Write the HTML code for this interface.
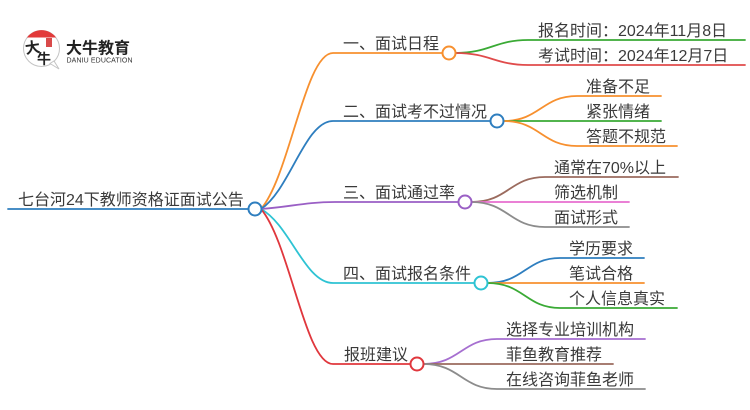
<!DOCTYPE html>
<html><head><meta charset="utf-8"><style>
html,body{margin:0;padding:0;background:#fff;}
svg{display:block;}
text{font-family:"Liberation Sans","Noto Sans CJK SC",sans-serif;}
</style></head><body>
<svg width="750" height="410" viewBox="0 0 750 410" xmlns="http://www.w3.org/2000/svg">
<rect width="750" height="410" fill="#fff"/>
<!-- logo -->
<g>
<circle cx="41.5" cy="48.5" r="18" fill="#fff" stroke="#c4c4c4" stroke-width="1"/>
<path d="M27,37.5 A18,18 0 0 1 56,37.5 Z" fill="#e23a3a"/>
<path d="M50,63.5 L59,69 L54,61 Z" fill="#fff" stroke="#c4c4c4" stroke-width="1"/>
<text x="25" y="53" font-size="15" fill="#222" font-weight="bold" transform="rotate(-8 32 47)">大</text>
<text x="37" y="64" font-size="14" fill="#222" font-weight="bold">牛</text>
<rect x="46" y="38" width="6" height="9" fill="#d94a4a"/>
<text x="66" y="53.5" font-size="16" font-weight="bold" fill="#222">大牛教育</text>
<text x="66.5" y="62.7" font-size="7" fill="#333" textLength="66">DANIU EDUCATION</text>
</g>
<g fill="none" stroke-width="1.8" stroke-linecap="round">
<line x1="8" y1="209" x2="248.5" y2="209" stroke="#2e7ebf"/>
<path d="M261,209 C290,175 305,53 333,53 L442.5,53" stroke="#f7902f"/>
<path d="M261,209 C290,190 305,121 333,121 L490.5,121" stroke="#2e7ebf"/>
<path d="M261,209 C290,207 305,202 335,202 L458.5,202" stroke="#9a5fc5"/>
<path d="M261,209 C290,225 305,283 333,283 L474.5,283" stroke="#2ec3d3"/>
<path d="M261,209 C290,243 305,364 333,364 L410.5,364" stroke="#e0373d"/>
<path d="M455.5,53 C490,53 495,40 528,40 L745,40" stroke="#3aaa35"/>
<path d="M455.5,53 C490,53 495,65 528,65 L745,65" stroke="#e04b4b"/>
<path d="M503.5,121 C540,121 542,96 577,96 L661,96" stroke="#f7902f"/>
<path d="M503.5,121 L661,121" stroke="#3aaa35"/>
<path d="M503.5,121 C540,121 542,146 577,146 L677,146" stroke="#f7902f"/>
<path d="M471.5,202 C508,202 510,177 545,177 L678,177" stroke="#9b6b5e"/>
<path d="M471.5,202 L629,202" stroke="#e86fcf"/>
<path d="M471.5,202 C508,202 510,227 545,227 L629,227" stroke="#8c8c8c"/>
<path d="M487.5,283 C524,283 526,258 560,258 L644,258" stroke="#2e7ebf"/>
<path d="M487.5,283 L644,283" stroke="#f7902f"/>
<path d="M487.5,283 C524,283 526,308 560,308 L677,308" stroke="#3aaa35"/>
<path d="M423.5,364 C460,364 462,339 497,339 L645,339" stroke="#a66fd0"/>
<path d="M423.5,364 L613,364" stroke="#9b6b5e"/>
<path d="M423.5,364 C460,364 462,389 497,389 L645,389" stroke="#8c8c8c"/>
</g>
<g fill="#fff" stroke-width="2">
<circle cx="255" cy="209" r="6.5" stroke="#2e7ebf"/>
<circle cx="449" cy="53" r="6.5" stroke="#f7902f"/>
<circle cx="497" cy="121" r="6.5" stroke="#2e7ebf"/>
<circle cx="465" cy="202" r="6.5" stroke="#9a5fc5"/>
<circle cx="481" cy="283" r="6.5" stroke="#2ec3d3"/>
<circle cx="417" cy="364" r="6.5" stroke="#e0373d"/>
</g>
<g font-size="16" fill="#3a3a3a">
<text x="18" y="205">七台河24下教师资格证面试公告</text>
<text x="343" y="49">一、面试日程</text>
<text x="343" y="117">二、面试考不过情况</text>
<text x="343" y="198">三、面试通过率</text>
<text x="343" y="279">四、面试报名条件</text>
<text x="344" y="360">报班建议</text>
<text x="538" y="36">报名时间：2024年11月8日</text>
<text x="538" y="61">考试时间：2024年12月7日</text>
<text x="586" y="92">准备不足</text>
<text x="586" y="117">紧张情绪</text>
<text x="586" y="142">答题不规范</text>
<text x="554" y="173">通常在70%以上</text>
<text x="554" y="198">筛选机制</text>
<text x="554" y="223">面试形式</text>
<text x="569" y="254">学历要求</text>
<text x="569" y="279">笔试合格</text>
<text x="569" y="304">个人信息真实</text>
<text x="506" y="335">选择专业培训机构</text>
<text x="506" y="360">菲鱼教育推荐</text>
<text x="506" y="385">在线咨询菲鱼老师</text>
</g>
</svg>
</body></html>
